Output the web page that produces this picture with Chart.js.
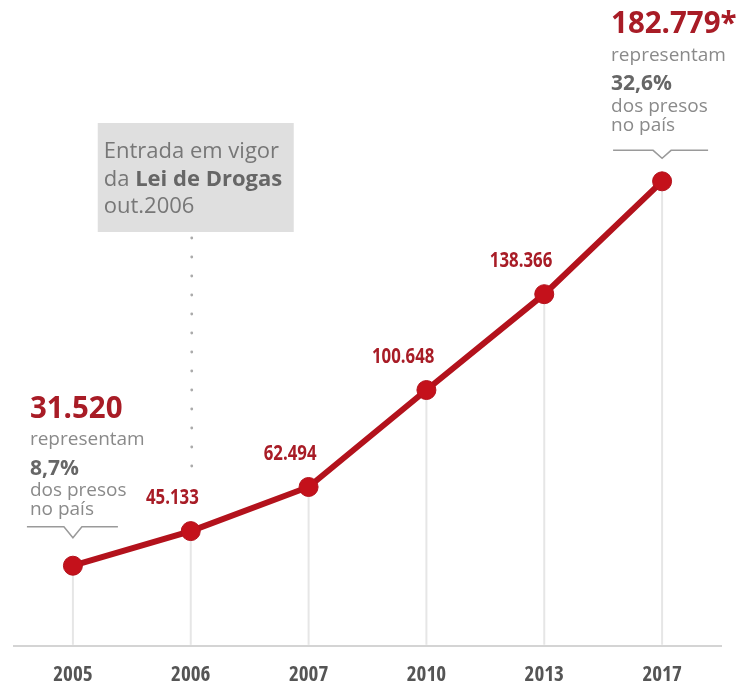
<!DOCTYPE html>
<html><head><meta charset="utf-8">
<script src="https://cdn.jsdelivr.net/npm/chart.js@4.4.1/dist/chart.umd.min.js"></script>
<style>html,body{margin:0;padding:0;background:#fff;}#wrap{width:742px;height:688px;}</style>
</head><body><div id="wrap"><canvas id="c" width="742" height="688"></canvas></div>
<script>
// ---- data ----
const years = ['2005', '2006', '2007', '2010', '2013', '2017'];
const prisoners = [31520, 45133, 62494, 100648, 138366, 182779];
const valueLabels = ['31.520', '45.133', '62.494', '100.648', '138.366', '182.779*'];
const shareLabels = ['8,7%', null, null, null, null, '32,6%'];
const shareText = ['representam', 'dos presos', 'no país'];
const lawNote = ['Entrada em vigor', 'da ', 'Lei de Drogas', 'out.2006'];

const RED_TXT = '#a81c26', LINE = '#b3121c', PT = '#c4111b';
const GREY = '#8a8a8a', GREY_B = '#666666';
const SANS = '"Open Sans", "Noto Sans", sans-serif';

function condText(ctx, txt, x, y, sx) {
  ctx.save(); ctx.translate(x, y); ctx.scale(sx, 1); ctx.fillText(txt, 0, 0); ctx.restore();
}

const overlay = {
  id: 'overlay',
  beforeDatasetsDraw(chart) {
    const ctx = chart.ctx, meta = chart.getDatasetMeta(0), b = chart.chartArea.bottom;
    ctx.save();
    ctx.strokeStyle = '#e6e6e6'; ctx.lineWidth = 2;
    meta.data.forEach(p => { ctx.beginPath(); ctx.moveTo(p.x, p.y); ctx.lineTo(p.x, b - 1); ctx.stroke(); });
    const x6 = meta.data[1].x;
    const bx = x6 - 93, by = 123;
    ctx.fillStyle = '#dfdfdf'; ctx.fillRect(bx, by, 196, 109);
    ctx.fillStyle = '#777'; ctx.textBaseline = 'middle'; ctx.textAlign = 'left';
    ctx.font = '22px ' + SANS;
    ctx.fillText(lawNote[0], bx + 6, 152);
    ctx.fillText(lawNote[1], bx + 6, 180);
    const w = ctx.measureText(lawNote[1]).width;
    ctx.font = 'bold 22px ' + SANS; ctx.fillStyle = '#666';
    ctx.fillText(lawNote[2], bx + 6 + w, 180);
    ctx.font = '22px ' + SANS; ctx.fillStyle = '#777';
    ctx.fillText(lawNote[3], bx + 6, 207);
    ctx.fillStyle = '#aaaaaa';
    for (let y = 238; y < 472; y += 19) { ctx.beginPath(); ctx.arc(x6 + 1, y, 1.4, 0, Math.PI * 2); ctx.fill(); }
    ctx.restore();
  },
  afterDatasetsDraw(chart) {
    const ctx = chart.ctx, meta = chart.getDatasetMeta(0);
    ctx.save();
    ctx.textBaseline = 'middle';
    ctx.fillStyle = RED_TXT; ctx.textAlign = 'right';
    ctx.font = 'bold 21px ' + SANS;
    for (let i = 1; i < meta.data.length - 1; i++) {
      const p = meta.data[i];
      condText(ctx, valueLabels[i], p.x + 8, p.y - 33, 0.8);
    }
    const ann = [
      { i: 0, dx: -43, lineY: -39, tipY: -28, l: -46, r: 45 },
      { i: meta.data.length - 1, dx: -51, lineY: -31, tipY: -23, l: -49, r: 46 }
    ];
    ctx.textAlign = 'left';
    ann.forEach(a => {
      const p = meta.data[a.i], x = p.x + a.dx, y = p.y;
      ctx.fillStyle = RED_TXT; ctx.font = 'bold 31px ' + SANS;
      condText(ctx, valueLabels[a.i], x, y - 157, 0.95);
      ctx.fillStyle = GREY; ctx.font = '19px ' + SANS;
      ctx.fillText(shareText[0], x, y - 126);
      ctx.fillStyle = GREY_B; ctx.font = 'bold 21px ' + SANS;
      ctx.fillText(shareLabels[a.i], x, y - 97);
      ctx.fillStyle = GREY; ctx.font = '19px ' + SANS;
      ctx.fillText(shareText[1], x, y - 75);
      ctx.fillText(shareText[2], x, y - 56);
      ctx.strokeStyle = '#9a9a9a'; ctx.lineWidth = 1.5;
      ctx.beginPath();
      ctx.moveTo(p.x + a.l, y + a.lineY);
      ctx.lineTo(p.x - 9, y + a.lineY);
      ctx.lineTo(p.x, y + a.tipY);
      ctx.lineTo(p.x + 9, y + a.lineY);
      ctx.lineTo(p.x + a.r, y + a.lineY);
      ctx.stroke();
    });
    ctx.restore();
  }
};

new Chart(document.getElementById('c').getContext('2d'), {
  type: 'line',
  data: {
    labels: years,
    datasets: [{
      data: prisoners,
      borderColor: LINE, borderWidth: 6,
      pointRadius: 9.5, pointBackgroundColor: PT, pointBorderColor: LINE, pointBorderWidth: 1,
      tension: 0, clip: false
    }]
  },
  options: {
    responsive: false, animation: false, events: [],
    layout: { padding: { left: 14, right: 21, top: 4, bottom: -17 } },
    plugins: { legend: { display: false }, tooltip: { enabled: false } },
    scales: {
      x: {
        offset: true,
        grid: { display: false, drawTicks: false },
        border: { display: true, color: '#d4d4d4', width: 2 },
        ticks: { color: '#555', padding: 17, font: { family: '"Open Sans", sans-serif', size: 21, weight: 'bold condensed' } }
      },
      y: { display: false, min: 0, max: 250000 }
    }
  },
  plugins: [overlay]
});
</script>
</body></html>
